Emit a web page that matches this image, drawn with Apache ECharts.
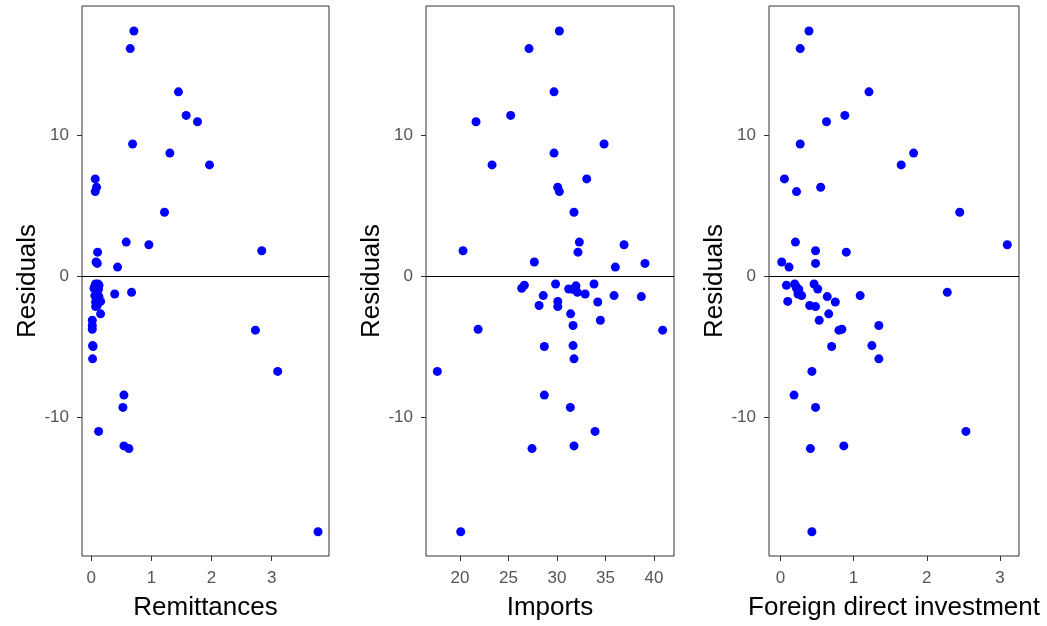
<!DOCTYPE html>
<html>
<head>
<meta charset="utf-8">
<script src="https://cdn.jsdelivr.net/npm/echarts@6/dist/echarts.min.js"></script>
<style>
html,body{margin:0;padding:0;background:#fff;}
#chart{width:1047px;height:626px;}
</style>
</head>
<body>
<div id="chart"></div>
<script>
// Residuals shared by all three panels (one per country)
const residuals = [
  17.40, 16.15, 13.09, 11.42, 10.97, 9.39, 8.75, 7.91, 6.92, 6.33,
  6.02, 4.56, 2.44, 2.25, 1.83, 1.73, 1.03, 0.93, 0.67,
  -0.53, -0.53, -0.62, -0.66, -0.83, -0.88, -0.90, -1.12, -1.24, -1.35,
  -1.35, -1.42, -1.76, -1.80, -2.05, -2.13, -2.64, -3.10, -3.47, -3.73,
  -3.80, -4.89, -4.96, -5.83, -6.72, -8.40, -9.27, -10.97, -12.00, -12.19,
  -18.08
];
const remittances = [
  0.709, 0.648, 1.45, 1.578, 1.766, 0.687, 1.307, 1.966, 0.066, 0.088,
  0.066, 1.218, 0.581, 0.958, 2.835, 0.105, 0.08, 0.10, 0.437,
  0.072, 0.11, 0.128, 0.06, 0.045, 0.09, 0.12, 0.67, 0.39, 0.10,
  0.06, 0.128, 0.155, 0.072, 0.10, 0.072, 0.155, 0.017, 0.017, 0.017,
  2.73, 0.022, 0.03, 0.022, 3.10, 0.543, 0.526, 0.122, 0.543, 0.626,
  3.77
];
const imports = [
  30.24, 27.11, 29.69, 25.22, 21.65, 34.85, 29.69, 23.30, 33.06, 30.07,
  30.24, 31.75, 32.30, 36.91, 20.31, 32.16, 27.66, 39.07, 36.01,
  29.85, 33.81, 26.63, 31.95, 26.36, 31.2, 31.6, 32.1, 32.9, 28.58,
  35.88, 38.69, 30.08, 34.2, 28.15, 30.08, 31.4, 34.47, 31.65, 21.86,
  40.89, 31.65, 28.69, 31.75, 17.66, 28.69, 31.37, 33.92, 31.75, 27.42,
  20.07
];
const fdi = [
  0.39, 0.27, 1.21, 0.88, 0.63, 0.27, 1.82, 1.65, 0.055, 0.55,
  0.22, 2.45, 0.205, 3.10, 0.48, 0.90, 0.018, 0.48, 0.118,
  0.195, 0.46, 0.082, 0.21, 0.22, 0.51, 0.25, 2.28, 0.24, 0.29,
  1.09, 0.64, 0.10, 0.75, 0.40, 0.48, 0.66, 0.53, 1.345, 0.84,
  0.80, 1.25, 0.70, 1.345, 0.43, 0.186, 0.48, 2.535, 0.866, 0.41,
  0.43
];
const xNames = ['Remittances', 'Imports', 'Foreign direct investment'];
const xTicks = [[0, 1, 2, 3], [20, 25, 30, 35, 40], [0, 1, 2, 3]];
const yTicks = [-10, 0, 10];
const xRanges = [[-0.154, 3.953], [16.49, 42.06], [-0.156, 3.26]];
const yRange = [-19.8, 19.17];

const grids = [
  {left: 82, width: 247, top: 6, height: 551},
  {left: 426, width: 248, top: 6, height: 551},
  {left: 769, width: 250, top: 6, height: 551}
];
const xs = [remittances, imports, fdi];

const FONT = 'Liberation Sans, Arial, sans-serif';
const option = {
  animation: false,
  backgroundColor: '#fff',
  grid: grids.map(g => Object.assign({show: true, borderColor: '#333', borderWidth: 1, backgroundColor: 'transparent'}, g)),
  xAxis: xTicks.map((t, i) => ({
    type: 'value', gridIndex: i, position: 'bottom',
    min: xRanges[i][0], max: xRanges[i][1],
    name: xNames[i], nameLocation: 'middle', nameGap: 39,
    nameTextStyle: {fontFamily: FONT, fontSize: 26, color: '#000'},
    axisLine: {show: false, onZero: false},
    splitLine: {show: false},
    axisTick: {show: true, inside: false, length: 5, lineStyle: {color: '#333'}, customValues: t},
    axisLabel: {fontFamily: FONT, fontSize: 17, color: '#555', margin: 14, customValues: t}
  })),
  yAxis: xTicks.map((t, i) => ({
    type: 'value', gridIndex: i, position: 'left',
    min: yRange[0], max: yRange[1],
    name: 'Residuals', nameLocation: 'middle', nameGap: 41,
    nameTextStyle: {fontFamily: FONT, fontSize: 26, color: '#000'},
    axisLine: {show: false, onZero: false},
    splitLine: {show: false},
    axisTick: {show: true, inside: false, length: 5, lineStyle: {color: '#333'}, customValues: yTicks},
    axisLabel: {fontFamily: FONT, fontSize: 17, color: '#555', margin: 13, customValues: yTicks}
  })),
  series: xs.map((xv, i) => ({
    type: 'scatter', xAxisIndex: i, yAxisIndex: i,
    symbolSize: 9,
    itemStyle: {color: '#0000ff', opacity: 1},
    data: xv.map((x, k) => [x, residuals[k]]),
    markLine: {
      silent: true, symbol: 'none', animation: false,
      label: {show: false},
      lineStyle: {color: '#000', width: 1, type: 'solid'},
      data: [{yAxis: 0}]
    }
  }))
};
const chart = echarts.init(document.getElementById('chart'), null, {renderer: 'canvas'});
chart.setOption(option);
</script>
</body>
</html>
